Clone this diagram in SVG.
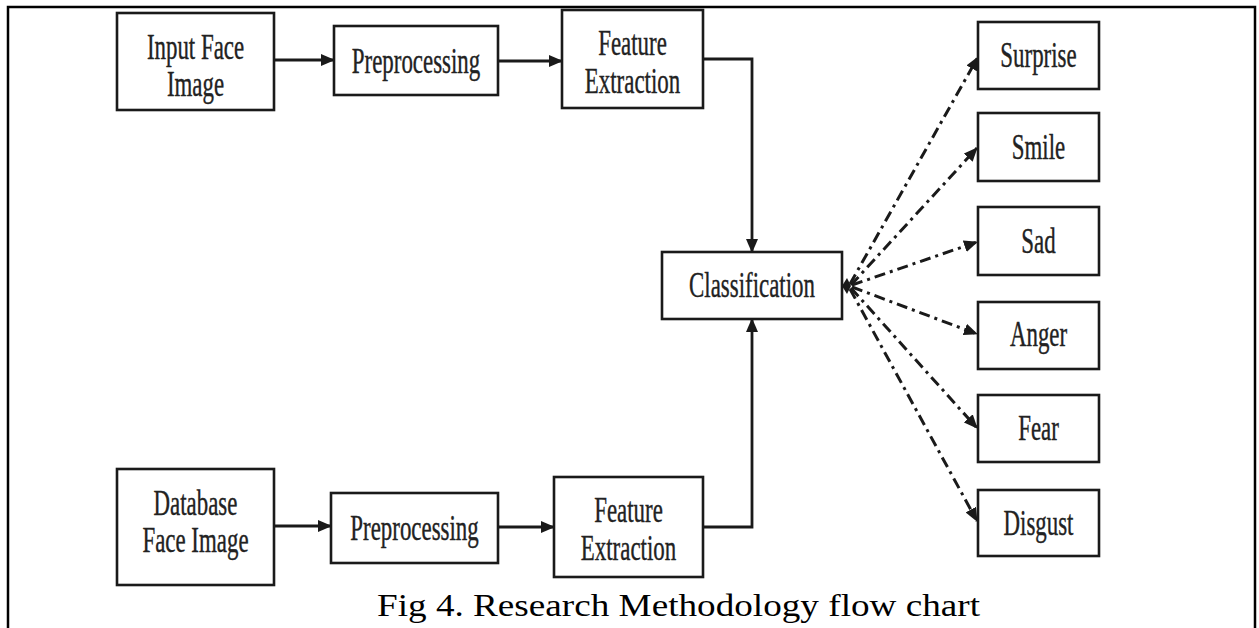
<svg xmlns="http://www.w3.org/2000/svg" width="1259" height="628" viewBox="0 0 1259 628">
<style>
.box{fill:#fff;stroke:#1a1a1a;stroke-width:2.6}
.lbl{font-family:"Liberation Serif","Times New Roman",serif;font-size:35px;fill:#222;stroke:#222;stroke-width:0.4;text-anchor:middle}
.solid{fill:none;stroke:#1a1a1a;stroke-width:2.8}
.dash{fill:none;stroke:#1a1a1a;stroke-width:3;stroke-dasharray:11 5 3 5}
.frame{fill:none;stroke:#000;stroke-width:2.5}
.cap{font-family:"Liberation Serif","Times New Roman",serif;font-size:31px;fill:#000}
</style>
<defs>
<marker id="ah" viewBox="0 0 14 12" refX="13" refY="6" markerWidth="14" markerHeight="12" markerUnits="userSpaceOnUse" orient="auto">
<path d="M0,0 L14,6 L0,12 z" fill="#1a1a1a"/>
</marker>
</defs>
<rect width="1259" height="628" fill="#fff"/>
<path class="frame" d="M8,628 V7 H1255 V628"/>

<g id="connectors">
<line class="solid" x1="274" y1="60" x2="334" y2="60" marker-end="url(#ah)"/>
<line class="solid" x1="498" y1="61" x2="562" y2="61" marker-end="url(#ah)"/>
<path class="solid" d="M703,59 H752 V252" marker-end="url(#ah)"/>
<line class="solid" x1="274" y1="526" x2="331" y2="526" marker-end="url(#ah)"/>
<line class="solid" x1="498" y1="527" x2="554" y2="527" marker-end="url(#ah)"/>
<path class="solid" d="M703,527 H752 V319" marker-end="url(#ah)"/>
<path d="M842,286 L847,278 L851,286 L847,294 Z" fill="#1a1a1a"/>
<line class="dash" x1="850" y1="284" x2="978" y2="57" marker-end="url(#ah)"/>
<line class="dash" x1="851" y1="285" x2="977" y2="148" marker-end="url(#ah)"/>
<line class="dash" x1="852" y1="285" x2="977" y2="242" marker-end="url(#ah)"/>
<line class="dash" x1="852" y1="287" x2="977" y2="334" marker-end="url(#ah)"/>
<line class="dash" x1="851" y1="288" x2="977" y2="428" marker-end="url(#ah)"/>
<line class="dash" x1="850" y1="289" x2="977" y2="521" marker-end="url(#ah)"/>
</g>

<g id="input-face">
<rect class="box" x="117" y="13" width="157" height="97"/>
<text class="lbl" transform="translate(195.5,59) scale(0.654,1)">Input Face</text>
<text class="lbl" transform="translate(195.5,96) scale(0.654,1)">Image</text>
</g>
<g id="preprocessing-top">
<rect class="box" x="334" y="26" width="164" height="69"/>
<text class="lbl" transform="translate(416,73) scale(0.654,1)">Preprocessing</text>
</g>
<g id="feature-top">
<rect class="box" x="562" y="10" width="141" height="98"/>
<text class="lbl" transform="translate(632.5,55) scale(0.654,1)">Feature</text>
<text class="lbl" transform="translate(632.5,93) scale(0.654,1)">Extraction</text>
</g>
<g id="classification">
<rect class="box" x="662" y="252" width="180" height="67"/>
<text class="lbl" transform="translate(752,297) scale(0.654,1)">Classification</text>
</g>
<g id="database-face">
<rect class="box" x="117" y="469" width="157" height="116"/>
<text class="lbl" transform="translate(195.5,515) scale(0.654,1)">Database</text>
<text class="lbl" transform="translate(195.5,552) scale(0.654,1)">Face Image</text>
</g>
<g id="preprocessing-bottom">
<rect class="box" x="331" y="493" width="167" height="70"/>
<text class="lbl" transform="translate(414.5,540) scale(0.654,1)">Preprocessing</text>
</g>
<g id="feature-bottom">
<rect class="box" x="554" y="477" width="149" height="100"/>
<text class="lbl" transform="translate(628.5,522) scale(0.654,1)">Feature</text>
<text class="lbl" transform="translate(628.5,560) scale(0.654,1)">Extraction</text>
</g>
<g id="surprise">
<rect class="box" x="978" y="22" width="121" height="67"/>
<text class="lbl" transform="translate(1038.5,67) scale(0.654,1)">Surprise</text>
</g>
<g id="smile">
<rect class="box" x="978" y="113" width="121" height="68"/>
<text class="lbl" transform="translate(1038.5,159) scale(0.654,1)">Smile</text>
</g>
<g id="sad">
<rect class="box" x="978" y="207" width="121" height="68"/>
<text class="lbl" transform="translate(1038.5,253) scale(0.654,1)">Sad</text>
</g>
<g id="anger">
<rect class="box" x="978" y="302" width="121" height="67"/>
<text class="lbl" transform="translate(1038.5,346) scale(0.654,1)">Anger</text>
</g>
<g id="fear">
<rect class="box" x="978" y="395" width="121" height="67"/>
<text class="lbl" transform="translate(1038.5,440) scale(0.654,1)">Fear</text>
</g>
<g id="disgust">
<rect class="box" x="978" y="490" width="121" height="66"/>
<text class="lbl" transform="translate(1038.5,535) scale(0.654,1)">Disgust</text>
</g>

<text class="cap" x="377" y="616" textLength="603" lengthAdjust="spacingAndGlyphs">Fig 4. Research Methodology flow chart</text>
</svg>
